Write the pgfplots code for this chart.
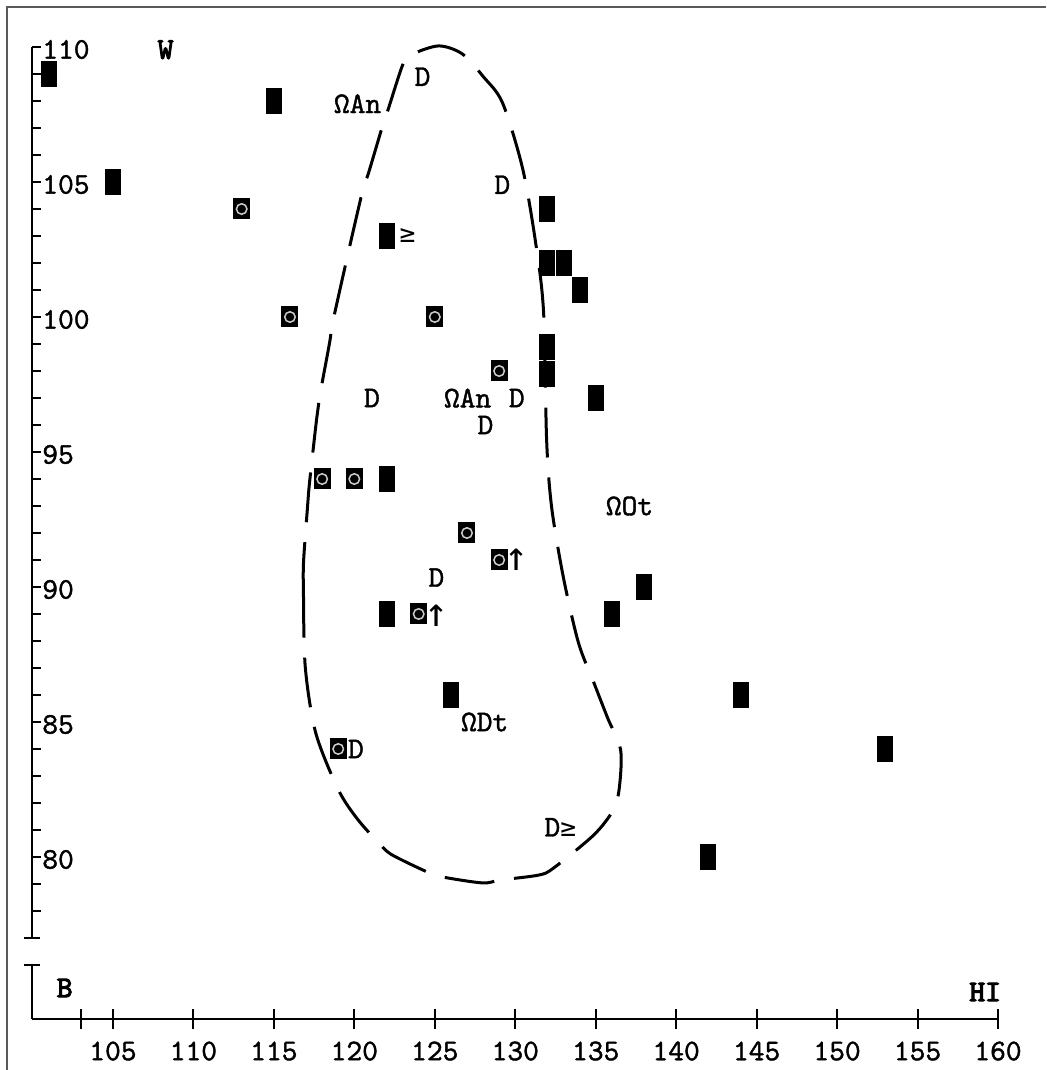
\documentclass[border=0pt]{standalone}
\usepackage{pgfplots}
\pgfplotsset{compat=1.18}
\usepackage{fontspec}
\newfontfamily\symfont{DejaVu Sans Mono}
\newfontfamily\labfont{lmmono10-regular.otf}[FakeBold=1.3]
\newfontfamily\labbold{lmmono10-regular.otf}[FakeBold=3.5]
\pgfdeclareplotmark{rect}{\pgfpathrectangle{\pgfpoint{-3.2pt}{-5.2pt}}{\pgfpoint{6.4pt}{10.4pt}}\pgfusepathqfill}
\pgfdeclareplotmark{rectb}{\pgfpathrectangle{\pgfpoint{-3.4pt}{-4.2pt}}{\pgfpoint{6.8pt}{8.4pt}}\pgfusepathqfill}
\newcommand{\lab}{\labfont\fontsize{12}{13}\selectfont}
\newcommand{\labb}{\labbold\fontsize{12}{13}\selectfont}
\newcommand{\GEsym}{{\symfont\fontsize{10.5}{12}\selectfont ≥}}
\newcommand{\UPsym}{{\symfont\fontsize{16}{16}\selectfont ↑}}
\begin{document}
\begin{tikzpicture}
\useasboundingbox (-13pt,-20.4pt) rectangle (405.4pt,407.6pt);
\draw[line width=0.8pt, black!65] (-10.2pt,-20.4pt) -- (-10.2pt,404.8pt) -- (405.4pt,404.8pt);
% y axis (ticks pointing right, labels right of the line)
\begin{axis}[
  at={(0,0)}, anchor=south west, scale only axis,
  width=386.2pt, height=388.8pt,
  xmin=100, xmax=160, ymin=74, ymax=110,
  axis x line=none, axis y line=left,
  y axis line style={draw=none},
  ytick={80,85,...,110},
  minor ytick={78,79,...,109},
  tick align=inside,
  major tick length=3.4pt, minor tick length=3.4pt,
  every tick/.style={line width=0.8pt, black},
  every minor tick/.style={line width=0.8pt, black},
  /pgf/number format/assume math mode=true,
  yticklabel style={anchor=west, font=\lab, xshift=0.4pt, yshift=-1pt},
]
\end{axis}
% x axis and data
\begin{axis}[
  at={(0,0)}, anchor=south west, scale only axis,
  width=386.2pt, height=388.8pt,
  xmin=100, xmax=160, ymin=74, ymax=110,
  axis x line=bottom, axis y line=none,
  axis line style={-, line width=0.8pt},
  clip=false,
  xtick={103,105,110,115,120,125,130,135,140,145,150,155,160},
  xticklabels={,105,110,115,120,125,130,135,140,145,150,155,160},
  tick align=center,
  major tick length=8pt,
  every tick/.style={line width=0.8pt, black},
  xticklabel style={font=\lab, yshift=-1.5pt},
]
% broken y axis line
\draw[line width=0.8pt] (axis cs:100,77) -- (axis cs:100,110);
\draw[line width=0.8pt] (axis cs:100,77) ++(-3.2pt,0pt) -- ++(6.4pt,0pt);
\draw[line width=0.8pt] (axis cs:100,76) ++(-3.2pt,0pt) -- ++(6.4pt,0pt);
\draw[line width=0.8pt] (axis cs:100,76) -- (axis cs:100,74);

% dashed envelope
\addplot[black, line width=1.2pt, dash pattern=on 20pt off 8pt, smooth] coordinates {
(116.84,89.81) (116.84,90.89) (117.09,92.96) (117.22,93.89) (117.65,96.19) (117.84,97.04)
(118.46,99.04) (118.65,99.78) (119.45,101.93) (119.70,102.59) (120.57,104.81) (120.88,105.33)
(121.81,107.19) (122.13,107.74) (123.00,109.33) (123.49,109.70) (125.23,110.04) (126.72,109.74)
(128.03,108.89) (129.21,107.93) (130.45,105.52) (131.26,102.78) (131.76,100.19) (131.95,95.44)
(132.26,92.96) (133.00,90.33) (133.93,87.93) (134.87,86.48) (135.74,85.15) (136.55,83.96)
(136.45,82.48) (136.05,81.7) (134.87,80.81) (132.38,79.59) (131.45,79.33) (129.09,79.15)
(127.97,79.04) (125.48,79.26) (124.55,79.44) (122.37,80.07) (121.63,80.45) (120.2,81.4)
(119.0,82.5) (117.6,84.6) (116.95,87.04) (116.84,89.81)
};

% solid markers
\addplot[only marks, mark=rect, black] coordinates {
(101,109) (115,108) (105,105) (122,103) (132,104) (132,102) (133,102) (134,101)
(132,98.9) (132,97.9) (135,97) (122,94) (138,90) (122,89) (136,89) (126,86)
(144,86) (153,84) (142,80)
};
% markers with circle
\addplot[only marks, mark=rectb, black] coordinates {
(113,104) (116,100) (125,100) (129,98) (118,94) (120,94) (127,92) (129,91) (124,89) (119,84)
};
\addplot[only marks, mark=o, mark size=2.1pt, mark options={draw=white!80!black, line width=0.6pt}] coordinates {
(113,104) (116,100) (125,100) (129,98) (118,94) (120,94) (127,92) (129,91) (124,89) (119,84)
};

% labels
\begin{scope}[every node/.style={inner sep=0pt}]
\node[font=\labb] at (axis cs:108.27,109.9) {W};
\node[font=\labb] at (axis cs:102.0,75.15) {B};
\node[font=\labb] at (axis cs:159.2,75.0) {HI};
\node[font=\lab] at (axis cs:120.2,107.9) {ΩAn};
\node[font=\lab] at (axis cs:124.24,108.9) {D};
\node[font=\lab] at (axis cs:129.2,104.9) {D};
\node at (axis cs:123.3,103.0) {\GEsym};
\node[font=\lab] at (axis cs:121.1,97.0) {D};
\node[font=\lab] at (axis cs:127.04,97.0) {ΩAn};
\node[font=\lab] at (axis cs:130.1,97.0) {D};
\node[font=\lab] at (axis cs:128.15,96.0) {D};
\node[font=\lab] at (axis cs:137.1,93.0) {ΩOt};
\node at (axis cs:130.1,91.0) {\UPsym};
\node[font=\lab] at (axis cs:125.1,90.35) {D};
\node at (axis cs:125.1,88.95) {\UPsym};
\node[font=\lab] at (axis cs:128.1,85.0) {ΩDt};
\node[font=\lab] at (axis cs:120.1,84.0) {D};
\node[font=\lab] at (axis cs:132.8,81.1) {D\GEsym};
\end{scope}
\end{axis}
\end{tikzpicture}
\end{document}
